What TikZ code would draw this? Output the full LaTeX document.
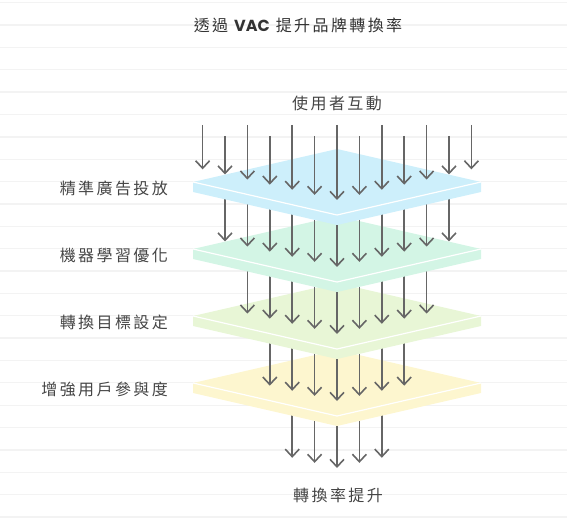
\documentclass[tikz,border=0pt]{standalone}
\usepackage{fontspec}
\usetikzlibrary{arrows.meta}
\newfontfamily\cjk[LetterSpace=15]{Noto Sans CJK TC}
\newfontfamily\latinb{Poppins}
\definecolor{layerA}{HTML}{CDEFFB}
\definecolor{layerB}{HTML}{D3F5E5}
\definecolor{layerC}{HTML}{E8F6D6}
\definecolor{layerD}{HTML}{FDF6CF}
\definecolor{arrowgray}{HTML}{666666}
\definecolor{textgray}{HTML}{444444}
\definecolor{rulegray}{HTML}{F3F3F3}

\begin{document}
\begin{tikzpicture}[x=1pt,y=1pt]
\tikzstyle{every node}+=[inner sep=0pt]
\tikzstyle{flow}=[draw=arrowgray, line width=1.6pt, -{Straight Barb[length=7.5pt,width=14pt]}]
\tikzstyle{sidetext}=[anchor=east, text=textgray, font=\cjk\fontsize{16}{19}\selectfont]
\tikzstyle{captext}=[text=textgray, font=\cjk\fontsize{16}{19}\selectfont]
\tikzstyle{rule}=[draw=rulegray, line width=1.3pt]
\useasboundingbox (0,0) rectangle (567,-518);
\foreach \k in {0,...,23}
  \draw[rule] (0,{-2.7-22.36*\k}) -- (567,{-2.7-22.36*\k});
\foreach \i/\col/\txt in {4/layerD/增強用戶參與度, 3/layerC/轉換目標設定, 2/layerB/機器學習優化, 1/layerA/精準廣告投放} {
  \pgfmathsetmacro\yc{-182-67*(\i-1)}
  \pgfmathtruncatemacro\n{6-\i}
  \pgfmathtruncatemacro\m{\i-6}
  \foreach \k in {\m,...,\n}
    \draw[flow] ({337+22.4*\k},\yc) -- ({337+22.4*\k},{\yc-85+5.1*abs(\k)});
  \fill[\col] (193,\yc) -- (337,\yc+33) -- (481,\yc) -- (481,\yc-10) -- (337,\yc-43) -- (193,\yc-10) -- cycle;
  \draw[white, line width=1.2pt] (193,\yc) -- (337,\yc-33) -- (481,\yc);
  \node[sidetext] (lab\i) at (168,\yc-6) {\txt};
}
\foreach \k in {-6,...,6} {
  \pgfmathsetmacro\ys{mod(abs(\k),2)==1 ? -136 : -125}
  \draw[flow] ({337+22.4*\k},\ys) -- ({337+22.4*\k},{-200+5.1*abs(\k)});
}
\node[captext, text=black!80] (title) at (298,-25) {透過 {\latinb\bfseries VAC} 提升品牌轉換率};
\node[captext] (userin) at (337,-103) {使用者互動};
\node[captext] (convout) at (338,-495) {轉換率提升};
\end{tikzpicture}
\end{document}
